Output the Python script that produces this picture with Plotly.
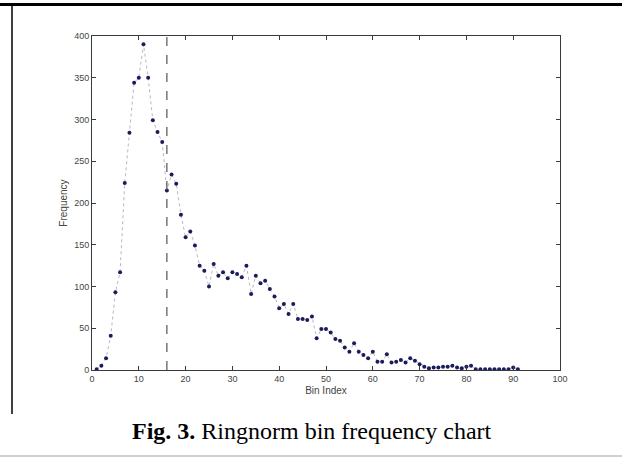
import plotly.graph_objects as go

# ---- data ----
bin_index = list(range(1, 92))
frequency = [
    1, 5, 14, 41, 93, 117, 224, 284, 344, 350,
    390, 350, 299, 285, 273, 215, 234, 223, 186, 159,
    166, 149, 125, 119, 100, 127, 113, 117, 110, 117,
    115, 111, 125, 91, 113, 104, 107, 97, 88, 74,
    79, 67, 79, 61, 61, 60, 64, 38, 49, 49,
    45, 37, 35, 27, 22, 32, 22, 18, 14, 22,
    10, 10, 19, 9, 10, 12, 9, 14, 11, 7,
    4, 2, 3, 3, 4, 4, 5, 3, 2, 4,
    5, 1, 1, 1, 1, 1, 1, 1, 1, 3,
    1,
]
threshold_bin = 16
x_ticks = list(range(0, 101, 10))
y_ticks = list(range(0, 401, 50))
caption_bold = "Fig. 3."
caption_text = " Ringnorm bin frequency chart"

W, H = 622, 459
L, T = 92, 36
R = W - 560
B = H - 370
PW, PH = W - L - R, H - T - B


def px(xs):
    return (xs - L) / PW


def py(ys):
    return 1 - (ys - T) / PH


fig = go.Figure()
fig.add_trace(go.Scatter(
    x=bin_index, y=frequency, mode="lines+markers",
    line=dict(color="#b8b8c0", width=1, dash="dot"),
    marker=dict(color="#1c1c5c", size=4),
    showlegend=False,
))

fig.add_shape(type="line", xref="x", yref="y", x0=threshold_bin, x1=threshold_bin,
              y0=0, y1=400, line=dict(color="#555555", width=1.2, dash="dash"))

# page decorations (screen coordinates)
fig.add_shape(type="rect", xref="paper", yref="paper", x0=px(0), x1=px(622),
              y0=py(3), y1=py(6), line=dict(width=0), fillcolor="black")
fig.add_shape(type="line", xref="paper", yref="paper", x0=px(12), x1=px(12),
              y0=py(5), y1=py(414), line=dict(color="black", width=1.5))
fig.add_shape(type="line", xref="paper", yref="paper", x0=px(0), x1=px(622),
              y0=py(456), y1=py(456), line=dict(color="#a0a0a0", width=1))

fig.add_annotation(xref="paper", yref="paper", x=px(312), y=py(431),
                   xanchor="center", yanchor="middle",
                   text=f"<b>{caption_bold}</b>{caption_text}", showarrow=False,
                   font=dict(family="Liberation Serif, Times New Roman, serif", size=24, color="black"))

axis_common = dict(
    showline=True, linecolor="#3a3a3a", linewidth=1, mirror="ticks",
    ticks="inside", ticklen=4, tickcolor="#3a3a3a", showgrid=False, zeroline=False,
    tickfont=dict(family="Liberation Sans Narrow, Arial Narrow, Liberation Sans, sans-serif", size=9, color="#444444"),
)

fig.update_xaxes(range=[0, 100], tickvals=x_ticks,
                 title=dict(text="Bin Index", standoff=4,
                            font=dict(family="Liberation Sans Narrow, Liberation Sans, sans-serif", size=10, color="#444444")),
                 **axis_common)
fig.update_yaxes(range=[0, 400], tickvals=y_ticks,
                 title=dict(text="Frequency", standoff=4,
                            font=dict(family="Liberation Sans Narrow, Liberation Sans, sans-serif", size=10, color="#444444")),
                 **axis_common)

fig.update_layout(
    width=W, height=H,
    margin=dict(l=L, r=R, t=T, b=B, autoexpand=False),
    paper_bgcolor="white", plot_bgcolor="white",
)

fig.write_html("out.html", config={"displayModeBar": False},
               post_script="document.body.style.margin='0';")
